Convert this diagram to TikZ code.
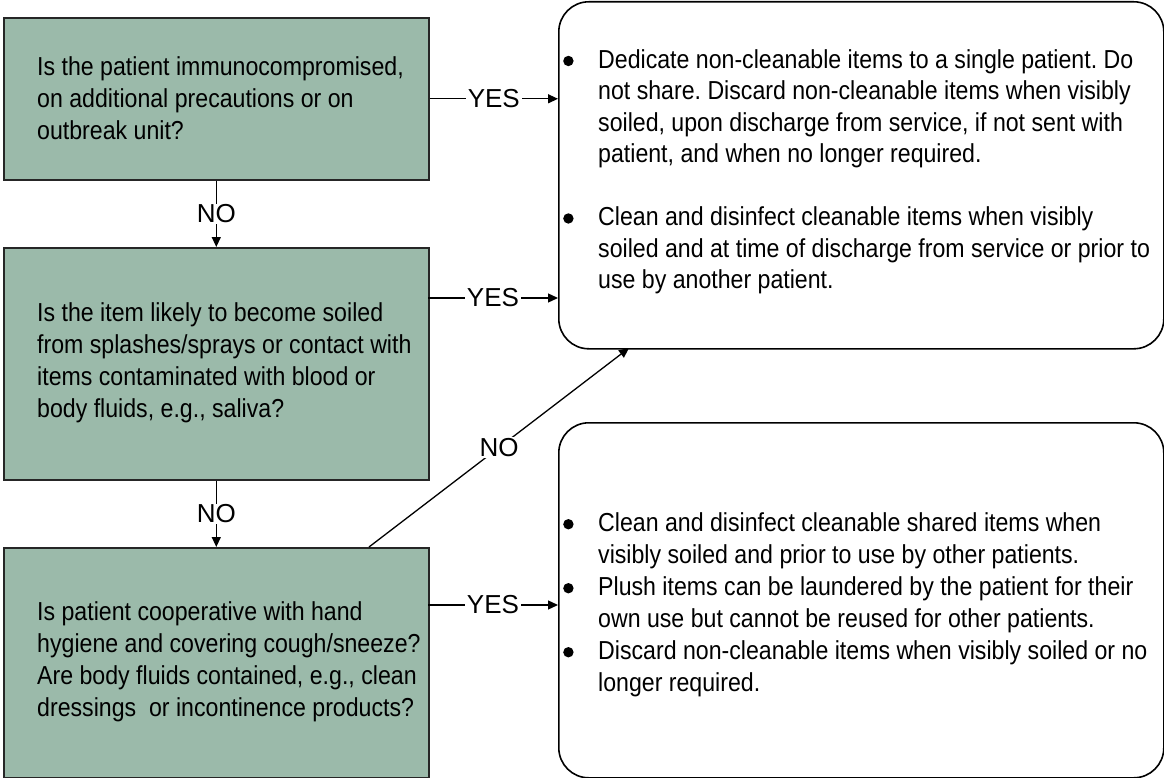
\documentclass[tikz,border=0pt]{standalone}
\usepackage{fontspec}
\setmainfont[FakeStretch=0.89]{Liberation Sans}
\newfontfamily\lblfont{Liberation Sans}
\usetikzlibrary{arrows.meta}
\definecolor{qgreen}{RGB}{155,186,170}
\newcommand\bdot{\tikz[baseline=0pt]\fill (5pt,7.5pt) circle[radius=5.2pt];}
\newcommand\bul[1]{\par\noindent\hangindent=35pt\hangafter=1\makebox[35pt][l]{\bdot}#1\par}
\begin{document}
\begin{tikzpicture}[x=1pt,y=-1pt,
  qbox/.style={draw=black!85, line width=1.6pt, fill=qgreen, inner sep=0pt, anchor=north west, minimum width=425pt},
  rbox/.style={draw=black, line width=1.6pt, rounded corners=30pt, inner sep=0pt, anchor=north west, minimum width=605pt},
  qtext/.style={anchor=west, align=left, inner sep=0pt, font=\fontsize{26}{32}\selectfont},
  rtext/.style={anchor=west, inner sep=0pt},
  conn/.style={line width=1.3pt, -{Triangle[length=10pt,width=9pt]}},
  lbl/.style={fill=white, inner xsep=2pt, inner ysep=1pt, font=\lblfont\fontsize{26}{30}\selectfont}
]
\useasboundingbox (0,0) rectangle (1164,778);

% left question boxes
\node[qbox, minimum height=162pt] (q1) at (3,17) {};
\node[qbox, minimum height=232pt] (q2) at (3,247) {};
\node[qbox, minimum height=230pt] (q3) at (3,547) {};

% right answer boxes
\node[rbox, minimum height=347pt] (r1) at (558,1) {};
\node[rbox, minimum height=355pt] (r2) at (558,422) {};

% question texts
\node[qtext] (t1) at (37,98) {Is the patient immunocompromised,\\on additional precautions or on\\outbreak unit?};
\node[qtext] (t2) at (37,363) {Is the item likely to become soiled\\from splashes/sprays or contact with\\items contaminated with blood or\\body fluids, e.g., saliva?};
\node[qtext] (t3) at (37,662) {Is patient cooperative with hand\\hygiene and covering cough/sneeze?\\Are body fluids contained, e.g., clean\\dressings\ \ or incontinence products?};

% answer texts
\node[rtext] (a1) at (563,172) {\begin{minipage}{596pt}\fontsize{26}{31.5}\selectfont\frenchspacing
\bul{Dedicate non-cleanable items to a single patient. Do\newline not share. Discard non-cleanable items when visibly\newline soiled, upon discharge from service, if not sent with\newline patient, and when no longer required.}
\vspace{31.5pt}
\bul{Clean and disinfect cleanable items when visibly\newline soiled and at time of discharge from service or prior to\newline use by another patient.}
\end{minipage}};
\node[rtext] (a2) at (563,605) {\begin{minipage}{596pt}\fontsize{26}{32}\selectfont\frenchspacing
\bul{Clean and disinfect cleanable shared items when\newline visibly soiled and prior to use by other patients.}
\bul{Plush items can be laundered by the patient for their\newline own use but cannot be reused for other patients.}
\bul{Discard non-cleanable items when visibly soiled or no\newline longer required.}
\end{minipage}};

% connector end points
\coordinate (y2) at (428,298);
\coordinate (y3) at (428,605);
\coordinate (d0) at (369,547);
\coordinate (d1) at (629,348);

% YES connectors
\draw[conn] (q1.east) -- node[lbl]{YES} (q1.east -| r1.west);
\draw[conn] (y2) -- node[lbl]{YES} (y2 -| r1.west);
\draw[conn] (y3) -- node[lbl]{YES} (y3 -| r2.west);

% NO connectors
\draw[conn] (q1.south) -- node[lbl]{NO} (q2.north);
\draw[conn] (q2.south) -- node[lbl]{NO} (q3.north);
\draw[conn] (d0) -- node[lbl]{NO} (d1);
\end{tikzpicture}
\end{document}
